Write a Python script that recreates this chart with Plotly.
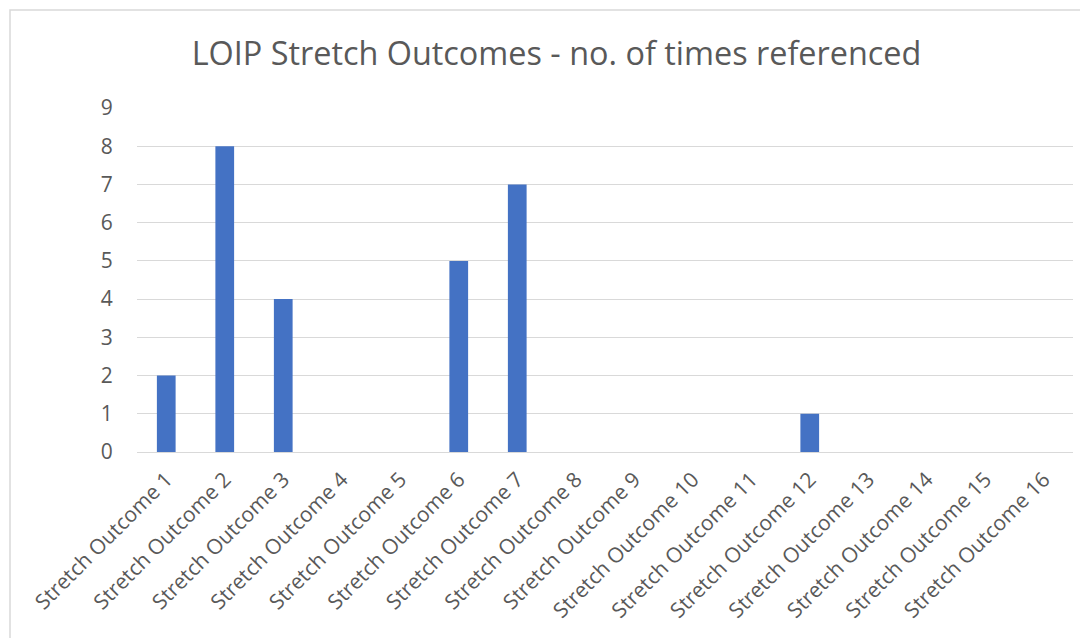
import plotly.graph_objects as go

categories = [f"Stretch Outcome {i}" for i in range(1, 17)]
values = [2, 8, 4, 0, 0, 5, 7, 0, 0, 0, 0, 1, 0, 0, 0, 0]
y_ticks = list(range(0, 10))

# page body has an 8px default margin, so the figure starts at (8, 8)
OFF = 8
W, H = 1088 - OFF, 638 - OFF
L, R, T, B = 137 - OFF, 15, 108 - OFF, 186
pw, ph = W - L - R, H - T - B

def px_to_paper_x(px):
    return (px - OFF - L) / pw

def px_to_paper_y(py):
    return (OFF + H - B - py) / ph

fig = go.Figure(go.Bar(
    x=categories, y=values,
    marker=dict(color="#4472c4", line=dict(width=0)),
))

fig.update_layout(
    width=W, height=H,
    margin=dict(l=L, r=R, t=T, b=B, autoexpand=False),
    paper_bgcolor="white", plot_bgcolor="white",
    bargap=0.68,
    font=dict(family="Open Sans", color="#595959"),
    title=dict(text="LOIP Stretch Outcomes - no. of times referenced",
               x=(556.5 - OFF) / W, xanchor="center", y=1 - (54 - OFF) / H, yanchor="middle",
               font=dict(size=32.4, color="#595959", family="Open Sans")),
    showlegend=False,
    shapes=[dict(type="rect", xref="paper", yref="paper",
                 x0=px_to_paper_x(10), x1=px_to_paper_x(1110),
                 y0=px_to_paper_y(660), y1=px_to_paper_y(10),
                 line=dict(color="#d9d9d9", width=1.5), fillcolor="rgba(0,0,0,0)",
                 layer="below")],
)
fig.update_xaxes(tickangle=-45, tickfont=dict(size=21, color="#595959"),
                 showgrid=False, showline=False,
                 ticks="outside", ticklen=6, tickcolor="rgba(0,0,0,0)")
fig.update_yaxes(range=[0, 9], tickvals=y_ticks, tickfont=dict(size=21, color="#595959"),
                 showgrid=True, gridcolor="#d9d9d9", gridwidth=1,
                 zeroline=True, zerolinecolor="#d9d9d9", zerolinewidth=1,
                 showline=False, ticks="outside", ticklen=19, tickcolor="rgba(0,0,0,0)")

fig.write_html("out.html")
